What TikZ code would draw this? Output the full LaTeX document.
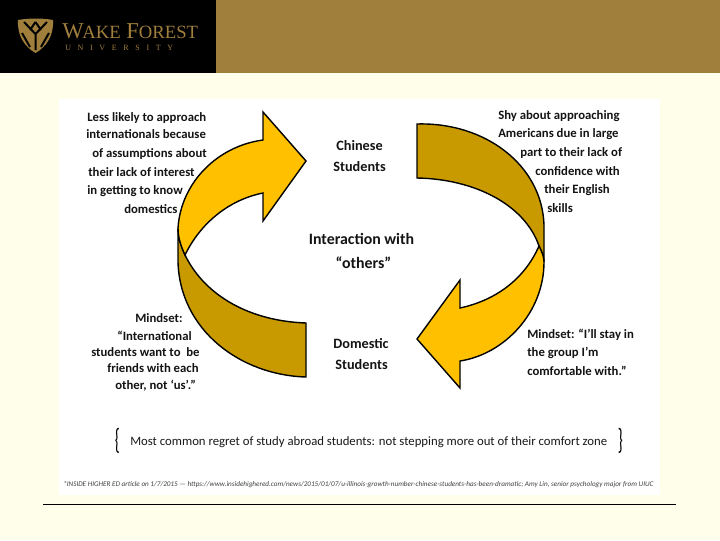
\documentclass[tikz,border=0pt]{standalone}
\usepackage{graphicx}
\usepackage{fontspec}
\setmainfont{Carlito}
\newfontfamily\logofont{Liberation Serif}
\definecolor{pagebg}{HTML}{FFFEEB}
\definecolor{barGold}{HTML}{A07F3C}
\definecolor{lightArrow}{HTML}{FFC000}
\definecolor{darkArrow}{HTML}{C99A00}
\tikzset{
  lbl/.style={anchor=base west,inner sep=0pt,font=\fontsize{9.55pt}{11pt}\selectfont\bfseries,text=black!92},
  lblc/.style={lbl,anchor=base,font=\fontsize{10.7pt}{13pt}\selectfont\bfseries},
  bigl/.style={lblc,font=\fontsize{11.9pt}{14pt}\selectfont\bfseries},
  arrowpart/.style={draw=black,line width=1.05pt,line join=miter},
  logotext/.style={anchor=base west,inner sep=0pt,text=barGold},
  bracelbl/.style={anchor=center,inner sep=0pt,font=\fontsize{20pt}{22pt}\selectfont}
}
\begin{document}
\begin{tikzpicture}[x=0.75pt,y=-0.75pt]
\useasboundingbox (0,0) rectangle (720,540);
\fill[pagebg] (0,0) rectangle (720,540);
\fill[black] (0,0) rectangle (216,73);
\fill[barGold] (216,0) rectangle (720,73);
\fill[white] (59,99) rectangle (660,495);
% logo
\fill[barGold] (18,20) .. controls (30,18) and (42,18) .. (53,20) .. controls (54,36) and (46,47) .. (35.5,53) .. controls (25,47) and (17,36) .. (18,20) -- cycle;
\draw[black,line width=1.5pt] (24,22) -- (35.5,34) -- (47,22) (35.5,34) -- (35.5,50) (22,33) -- (30,47) (49,33) -- (41,47) (35.5,22) -- (30,30) (35.5,22) -- (41,30);
\node[logotext,font=\logofont\fontsize{17pt}{18pt}\selectfont] (wf) at (62,38) {W\kern-1pt{\fontsize{14pt}{18pt}\selectfont AKE} F{\fontsize{14pt}{18pt}\selectfont OREST}};
\node[logotext,font=\logofont\fontsize{6pt}{7pt}\selectfont] (wu) at (65,50) {U\kern5pt N\kern5pt I\kern5pt V\kern5pt E\kern5pt R\kern5pt S\kern5pt I\kern5pt T\kern5pt Y};
% left arrow
\path[arrowpart,fill=darkArrow] (306,323) .. controls (250,321) and (205,296) .. (185,255) .. controls (181,246) and (178,238) .. (178,228) -- (178,262) .. controls (180,330) and (240,375) .. (306,377) -- cycle;
\path[arrowpart,fill=lightArrow] (185,255) .. controls (181,246) and (178,238) .. (178,228) .. controls (181,182) and (218,146) .. (263,140) -- (263,112) -- (306,161) -- (263,221) -- (263,193) .. controls (228,200) and (200,224) .. (185,255) -- cycle;
% right arrow
\path[arrowpart,fill=darkArrow] (417,124) .. controls (485,122) and (542,165) .. (544,225) -- (544,262) .. controls (544,257) and (542,252) .. (539,246) .. controls (525,205) and (475,179) .. (417,178) -- cycle;
\path[arrowpart,fill=lightArrow] (539,246) .. controls (542,252) and (544,257) .. (544,262) .. controls (544,312) and (505,354) .. (460,361) -- (460,388) -- (417,339) -- (460,280) -- (460,308) .. controls (497,300) and (525,278) .. (539,246) -- cycle;
% top-left text
\node[lbl] (a1) at (87,121) {Less likely to approach};
\node[lbl] (a2) at (86,138) {internationals because};
\node[lbl] (a3) at (92,157) {of assumptions about};
\node[lbl] (a4) at (88,176) {their lack of interest};
\node[lbl] (a5) at (87,194) {in getting to know};
\node[lbl] (a6) at (124,213) {domestics};
% top-right text
\node[lbl] (b1) at (498,119) {Shy about approaching};
\node[lbl] (b2) at (498,137) {Americans due in large};
\node[lbl] (b3) at (520,156) {part to their lack of};
\node[lbl] (b4) at (535,175) {confidence with};
\node[lbl] (b5) at (544,193) {their English};
\node[lbl] (b6) at (547,212) {skills};
% bottom-left text
\node[lbl] (c1) at (135,322) {Mindset:};
\node[lbl] (c2) at (117,340) {“International};
\node[lbl] (c3) at (91,356) {students want to\ \ be};
\node[lbl] (c4) at (107,372) {friends with each};
\node[lbl] (c5) at (115,389) {other, not ‘us’.”};
% bottom-right text
\node[lbl] (d1) at (527,338) {Mindset: “I’ll stay in};
\node[lbl] (d2) at (527,356) {the group I’m};
\node[lbl] (d3) at (527,375) {comfortable with.”};
% centre
\node[lblc] (e1) at (359.5,150.7) {Chinese};
\node[lblc] (e2) at (359.5,171.7) {Students};
\node[bigl] (e3) at (361.5,244.7) {Interaction with};
\node[bigl] (e4) at (363.5,268.7) {“others”};
\node[lblc] (e5) at (361,348.7) {Domestic};
\node[lblc] (e6) at (361.5,369.7) {Students};
% regret
\node[anchor=base west,inner sep=0pt,text=black!90,font=\fontsize{9.56pt}{11pt}\selectfont] (f) at (130,445) {Most common regret of study abroad students: not stepping more out of their comfort zone};
\node[bracelbl] (lb) at (117.5,441) {\scalebox{0.6}[1.1]{\{}};
\node[bracelbl] (rb) at (620.5,441) {\scalebox{0.6}[1.1]{\}}};
% footnote
\node[anchor=base west,inner sep=0pt,text=black!75,font=\fontsize{5.38pt}{6pt}\selectfont\itshape] (g) at (63,486) {*INSIDE HIGHER ED article on 1/7/2015 — https://www.insidehighered.com/news/2015/01/07/u-illinois-growth-number-chinese-students-has-been-dramatic; Amy Lin, senior psychology major from UIUC};
\draw[black,line width=0.75pt] (43,504) -- (676,504);
\end{tikzpicture}
\end{document}
